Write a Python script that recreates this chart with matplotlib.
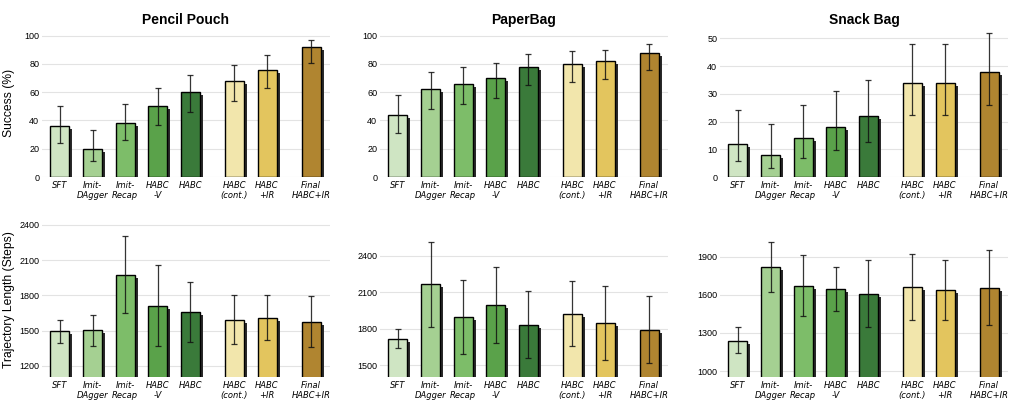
import matplotlib
matplotlib.use("Agg")
import matplotlib.pyplot as plt
import matplotlib.patheffects as pe
import numpy as np

methods = ["SFT", "Imit-\nDAgger", "Imit-\nRecap", "HABC\n-V", "HABC",
           "HABC\n(cont.)", "HABC\n+IR", "Final\nHABC+IR"]
positions = [0, 1, 2, 3, 4, 5.35, 6.35, 7.7]
colors = ["#cfe5c3", "#a5d092", "#7dbd69", "#5aa24a", "#3a7a3a",
          "#f2e6ac", "#e3c55e", "#b08530"]

tasks = ["Pencil Pouch", "PaperBag", "Snack Bag"]

# Success (%) -- mean, lower bound, upper bound
succ_pencil = [36, 20, 38, 50, 60, 68, 76, 92]
succ_pencil_lo = [24, 11, 26, 37, 46, 54, 63, 81]
succ_pencil_hi = [50, 33, 52, 63, 72, 79, 86, 97]

succ_paper = [44, 62, 66, 70, 78, 80, 82, 88]
succ_paper_lo = [31, 48, 52, 56, 65, 67, 69, 76]
succ_paper_hi = [58, 74, 78, 81, 87, 89, 90, 94]

succ_snack = [12, 8, 14, 18, 22, 34, 34, 38]
succ_snack_lo = [5.6, 3.2, 7, 9.8, 12.7, 22.4, 22.4, 25.9]
succ_snack_hi = [24, 19, 26, 31, 35, 48, 48, 52]

# Trajectory length (steps) -- mean, lower bound, upper bound
traj_pencil = [1495, 1503, 1975, 1714, 1658, 1595, 1611, 1577]
traj_pencil_lo = [1399, 1370, 1648, 1373, 1404, 1384, 1418, 1362]
traj_pencil_hi = [1591, 1637, 2304, 2057, 1915, 1805, 1807, 1795]

traj_paper = [1716, 2165, 1895, 1996, 1833, 1923, 1846, 1789]
traj_paper_lo = [1639, 1814, 1590, 1685, 1560, 1661, 1546, 1516]
traj_paper_hi = [1797, 2517, 2201, 2307, 2111, 2193, 2149, 2067]

traj_snack = [1240, 1819, 1670, 1644, 1610, 1660, 1639, 1655]
traj_snack_lo = [1141, 1626, 1430, 1472, 1350, 1399, 1399, 1360]
traj_snack_hi = [1344, 2017, 1913, 1817, 1874, 1923, 1874, 1952]

top_data = [(succ_pencil, succ_pencil_lo, succ_pencil_hi),
            (succ_paper, succ_paper_lo, succ_paper_hi),
            (succ_snack, succ_snack_lo, succ_snack_hi)]
bot_data = [(traj_pencil, traj_pencil_lo, traj_pencil_hi),
            (traj_paper, traj_paper_lo, traj_paper_hi),
            (traj_snack, traj_snack_lo, traj_snack_hi)]

top_ylims = [(0, 104), (0, 104), (0, 53)]
top_ticks = [[0, 20, 40, 60, 80, 100], [0, 20, 40, 60, 80, 100], [0, 10, 20, 30, 40, 50]]
bot_ylims = [(1106, 2425), (1402, 2678), (953, 2174)]
bot_ticks = [[1200, 1500, 1800, 2100, 2400], [1500, 1800, 2100, 2400], [1000, 1300, 1600, 1900]]

W, H = 1010, 403
fig = plt.figure(figsize=(W / 100, H / 100), dpi=100)

lefts = [42, 380, 720]
width_px = 288
top_row = (30, 177)
bot_row = (222, 377)

shadow = [pe.SimplePatchShadow(offset=(2.2, -2.2), shadow_rgbFace="#2b2b2b", alpha=1.0),
          pe.Normal()]


def draw(ax, data, ylim, ticks):
    mean, lo, hi = data
    mean = np.array(mean, float)
    yerr = np.vstack([mean - np.array(lo, float), np.array(hi, float) - mean])
    bars = ax.bar(positions, mean, width=0.58, color=colors, edgecolor="black",
                  linewidth=1.0, zorder=2)
    for b in bars:
        b.set_path_effects(shadow)
    ax.errorbar(positions, mean, yerr=yerr, fmt="none", ecolor="#111111",
                elinewidth=0.9, capsize=2.4, capthick=0.9, zorder=3, alpha=0.85)
    ax.set_ylim(*ylim)
    ax.set_xlim(-0.55, 8.28)
    ax.set_yticks(ticks)
    ax.set_xticks(positions)
    ax.set_xticklabels(methods, fontstyle="italic", fontsize=6, family="DejaVu Sans",
                       linespacing=1.15)
    ax.tick_params(axis="both", length=0)
    ax.tick_params(axis="x", pad=3)
    ax.tick_params(axis="y", pad=2, labelsize=6.5)
    for lab in ax.get_yticklabels():
        lab.set_family("Liberation Sans")
    for s in ax.spines.values():
        s.set_visible(False)
    ax.set_axisbelow(True)
    ax.yaxis.grid(True, color="#e3e3e3", linewidth=0.8)
    ax.set_facecolor("white")


for i in range(3):
    l = lefts[i]
    axt = fig.add_axes([l / W, (H - top_row[1]) / H, width_px / W, (top_row[1] - top_row[0]) / H])
    draw(axt, top_data[i], top_ylims[i], top_ticks[i])
    fig.text((l + width_px / 2) / W, 1 - 20 / H, tasks[i], ha="center", va="center",
             fontsize=10, fontweight="bold", family="Liberation Sans")
    axb = fig.add_axes([l / W, (H - bot_row[1]) / H, width_px / W, (bot_row[1] - bot_row[0]) / H])
    draw(axb, bot_data[i], bot_ylims[i], bot_ticks[i])

fig.text(9 / W, 1 - 103 / H, "Success (%)", rotation=90, ha="center", va="center",
         fontsize=8.7, family="Liberation Sans")
fig.text(9 / W, 1 - 300 / H, "Trajectory Length (Steps)", rotation=90, ha="center",
         va="center", fontsize=8.7, family="Liberation Sans")

fig.savefig("out.png", dpi=100)
